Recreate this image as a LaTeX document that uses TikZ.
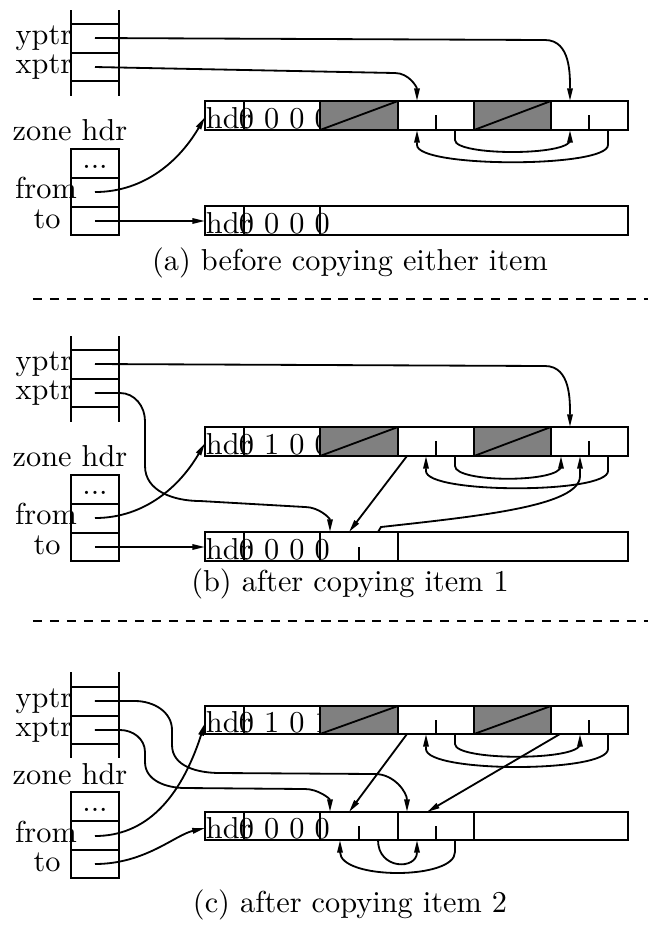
\documentclass[tikz,border=0pt]{standalone}
\usetikzlibrary{arrows.meta}
\begin{document}
\begin{tikzpicture}[x=0.33pt, y=-0.33pt, line width=0.6pt,
  ptr/.style={-{Triangle[length=4.2pt, width=1.8pt]}},
  lbl/.style={anchor=base, inner sep=0pt},
  txt/.style={anchor=base west, inner sep=0pt},
  obj/.style={fill=gray}]
\useasboundingbox (0,0) rectangle (648,938);

% (a)
\draw (71,10) -- (71,96) (119,10) -- (119,96);
\draw (71,24) -- (119,24) (71,53) -- (119,53) (71,81) -- (119,81);
\node[lbl] (ylba) at (44,44) {yptr};
\node[lbl] (xlba) at (44,73) {xptr};
\coordinate (ya) at (95,38);
\coordinate (xa) at (95,67);
\node[lbl] (zha) at (70,140) {zone hdr};
\draw (71,149) rectangle (119,235);
\draw (71,178) -- (119,178) (71,207) -- (119,207);
\node[lbl] (dta) at (95,168) {...};
\node[lbl] (frla) at (46,198) {from};
\node[lbl] (tola) at (47,228) {to};
\coordinate (fa) at (95,192);
\coordinate (ta) at (95,221);
\draw (205,101) rectangle (628,130);
\draw (244,101) -- (244,130);
\node[txt] (hfa) at (205,128) {hdr};
\node[txt] (bfa) at (238,128) {0 0 0 0};
\filldraw[obj] (320,101) rectangle (398,130);
\draw (320,130) -- (398,101);
\filldraw[obj] (474,101) rectangle (551,130);
\draw (474,130) -- (551,101);
\draw (436,115) -- (436,130) (589,115) -- (589,130);
\draw (205,206) rectangle (628,235);
\draw (244,206) -- (244,235) (320,206) -- (320,235);
\node[txt] (hta) at (205,233) {hdr};
\node[txt] (bta) at (238,233) {0 0 0 0};
\coordinate (fsa) at (205,117);
\coordinate (tsa) at (205,221);
\coordinate (o1a) at (417,101);
\coordinate (o2a) at (570,101);
\draw[ptr] (ya) -- (545,40) to[out=0,in=90] (o2a);
\draw[ptr] (xa) -- (395,73) to[out=0,in=90] (o1a);
\draw[ptr] (fa) .. controls (145,192) and (180,160) .. (fsa);
\draw[ptr] (ta) -- (tsa);
\draw[ptr] (455,130) -- (455,140) .. controls (455,156) and (570,156) .. (570,140) -- (570,130);
\draw[ptr] (608,130) -- (608,145) .. controls (608,168) and (417,168) .. (417,145) -- (417,130);
\node[lbl] (capa) at (350,270) {(a) before copying either item};
\draw[dashed, dash pattern=on 3pt off 2.6pt] (33,299) -- (648,299);

% (b)
\begin{scope}[shift={(0,326)}]
\draw (71,10) -- (71,96) (119,10) -- (119,96);
\draw (71,24) -- (119,24) (71,53) -- (119,53) (71,81) -- (119,81);
\node[lbl] (ylbb) at (44,44) {yptr};
\node[lbl] (xlbb) at (44,73) {xptr};
\coordinate (yb) at (95,38);
\coordinate (xb) at (95,67);
\node[lbl] (zhb) at (70,140) {zone hdr};
\draw (71,149) rectangle (119,235);
\draw (71,178) -- (119,178) (71,207) -- (119,207);
\node[lbl] (dtb) at (95,168) {...};
\node[lbl] (frlb) at (46,198) {from};
\node[lbl] (tolb) at (47,228) {to};
\coordinate (fb) at (95,192);
\coordinate (tb) at (95,221);
\draw (205,101) rectangle (628,130);
\draw (244,101) -- (244,130);
\node[txt] (hfb) at (205,128) {hdr};
\node[txt] (bfb) at (238,128) {0 1 0 0};
\filldraw[obj] (320,101) rectangle (398,130);
\draw (320,130) -- (398,101);
\filldraw[obj] (474,101) rectangle (551,130);
\draw (474,130) -- (551,101);
\draw (436,115) -- (436,130) (589,115) -- (589,130);
\draw (205,206) rectangle (628,235);
\draw (244,206) -- (244,235) (320,206) -- (320,235) (398,206) -- (398,235);
\draw (359,221) -- (359,235);
\node[txt] (htb) at (205,233) {hdr};
\node[txt] (btb) at (238,233) {0 0 0 0};
\coordinate (fsb) at (205,117);
\coordinate (tsb) at (205,221);
\coordinate (o2b) at (570,101);
\coordinate (c1b) at (330,206);
\draw[ptr] (yb) -- (545,40) to[out=0,in=90] (o2b);
\draw[ptr] (xb) -- (120,67) to[out=0,in=90] (145,95) -- (145,140) to[out=-90,in=180] (200,175) -- (305,181) to[out=0,in=90] (c1b);
\draw[ptr] (fb) .. controls (145,192) and (180,160) .. (fsb);
\draw[ptr] (tb) -- (tsb);
\draw[ptr] (407,130) -- (349,206);
\draw[ptr] (378,206) -- (381,201) .. controls (480,190) and (580,180) .. (580,150) -- (580,130);
\draw[ptr] (455,130) -- (455,140) .. controls (455,157) and (561,157) .. (561,140) -- (561,130);
\draw[ptr] (608,130) -- (608,145) .. controls (608,168) and (426,168) .. (426,145) -- (426,130);
\node[lbl] (capb) at (350,265) {(b) after copying item 1};
\draw[dashed, dash pattern=on 3pt off 2.6pt] (33,295) -- (648,295);
\end{scope}

% (c)
\draw (71,672) -- (71,758) (119,672) -- (119,758);
\draw (71,687) -- (119,687) (71,716) -- (119,716) (71,744) -- (119,744);
\node[lbl] (ylbc) at (44,707) {yptr};
\node[lbl] (xlbc) at (44,736) {xptr};
\coordinate (yc) at (95,701);
\coordinate (xc) at (95,730);
\node[lbl] (zhc) at (70,784) {zone hdr};
\draw (71,792) rectangle (119,878);
\draw (71,821) -- (119,821) (71,850) -- (119,850);
\node[lbl] (dtc) at (95,811) {...};
\node[lbl] (frlc) at (46,842) {from};
\node[lbl] (tolc) at (47,871) {to};
\coordinate (fc) at (95,836);
\coordinate (tc) at (95,864);
\draw (205,706) rectangle (628,734);
\draw (244,706) -- (244,734);
\node[txt] (hfc) at (205,732) {hdr};
\node[txt] (bfc) at (238,732) {0 1 0 1};
\filldraw[obj] (320,706) rectangle (398,734);
\draw (320,734) -- (398,706);
\filldraw[obj] (474,706) rectangle (551,734);
\draw (474,734) -- (551,706);
\draw (436,720) -- (436,734) (589,720) -- (589,734);
\draw (205,812) rectangle (628,840);
\draw (244,812) -- (244,840) (320,812) -- (320,840) (398,812) -- (398,840) (474,812) -- (474,840);
\draw (359,826) -- (359,840) (436,826) -- (436,840);
\node[txt] (htc) at (205,838) {hdr};
\node[txt] (btc) at (238,838) {0 0 0 0};
\coordinate (fsc) at (205,723);
\coordinate (tsc) at (205,828);
\coordinate (c1c) at (330,812);
\coordinate (c2c) at (407,812);
\draw[ptr] (yc) -- (135,701) to[out=0,in=90] (172,730) -- (172,745) to[out=-90,in=180] (220,773) -- (375,774) to[out=0,in=90] (c2c);
\draw[ptr] (xc) -- (120,730) to[out=0,in=90] (145,752) -- (145,762) to[out=-90,in=180] (185,788) -- (305,789) to[out=0,in=90] (c1c);
\draw[ptr] (fc) .. controls (145,836) and (180,800) .. (fsc);
\draw[ptr] (tc) .. controls (145,864) and (175,835) .. (tsc);
\draw[ptr] (407,734) -- (349,812);
\draw[ptr] (560,734) -- (427,812);
\draw[ptr] (455,734) -- (455,744) .. controls (455,761) and (580,761) .. (580,744) -- (580,734);
\draw[ptr] (608,734) -- (608,749) .. controls (608,773) and (426,773) .. (426,749) -- (426,734);
\draw[ptr] (378,840) .. controls (378,870) and (417,870) .. (417,840);
\draw[ptr] (455,840) -- (455,852) .. controls (455,880) and (340,880) .. (340,852) -- (340,840);
\node[lbl] (capc) at (350,912) {(c) after copying item 2};
\end{tikzpicture}
\end{document}
